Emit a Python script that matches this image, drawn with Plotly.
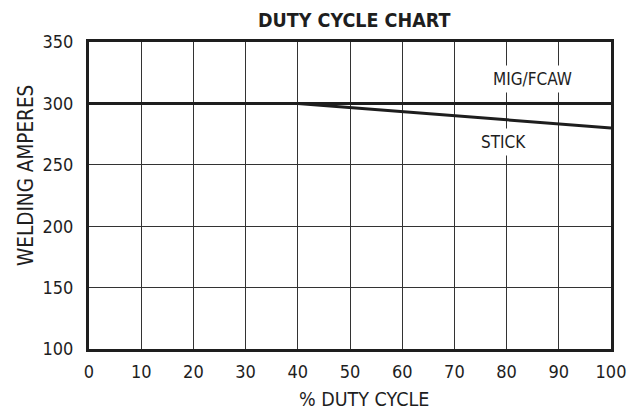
import plotly.graph_objects as go

duty_cycle = [0, 10, 20, 30, 40, 50, 60, 70, 80, 90, 100]
mig_amps = [300, 300, 300, 300, 300, 300, 300, 300, 300, 300, 300]
stick_x = [0, 40, 100]
stick_amps = [300, 300, 280]
x_ticks = [0, 10, 20, 30, 40, 50, 60, 70, 80, 90, 100]
y_ticks = [100, 150, 200, 250, 300, 350]

FONT = "Liberation Sans Narrow, DejaVu Sans Condensed, Arial Narrow, sans-serif"
INK = "#1e1e1e"

fig = go.Figure()
fig.add_trace(go.Scatter(x=stick_x, y=stick_amps, mode="lines",
                         line=dict(color=INK, width=3), showlegend=False))
fig.add_trace(go.Scatter(x=duty_cycle, y=mig_amps, mode="lines",
                         line=dict(color=INK, width=3), showlegend=False))

fig.add_annotation(x=85, y=319.5, text="MIG/FCAW", showarrow=False,
                   font=dict(family=FONT, size=17, color=INK),
                   bgcolor="white", borderpad=3)
fig.add_annotation(x=79.4, y=268.2, text="STICK", showarrow=False,
                   font=dict(family=FONT, size=17, color=INK),
                   bgcolor="white", borderpad=3)

# axis titles placed as annotations
fig.add_annotation(xref="paper", yref="paper", x=-0.1207, y=0.567,
                   text="WELDING AMPERES", textangle=-90, showarrow=False,
                   xanchor="center", yanchor="middle",
                   font=dict(family=FONT, size=20.5, color=INK))
fig.add_annotation(xref="paper", yref="paper", x=0.526, y=-0.166,
                   text="% DUTY CYCLE", showarrow=False,
                   xanchor="center", yanchor="middle",
                   font=dict(family=FONT, size=19.5, color=INK))

fig.update_layout(
    width=641, height=412,
    margin=dict(l=89, r=30, t=42, b=63, autoexpand=False),
    paper_bgcolor="white", plot_bgcolor="white",
    font=dict(family=FONT, size=18, color=INK),
    title=dict(text="<b>DUTY CYCLE CHART</b>", xref="paper", x=0.508,
               xanchor="center", yref="container", y=0.951, yanchor="middle",
               font=dict(family=FONT, size=19.5, color=INK)),
    xaxis=dict(range=[0, 100], tickvals=x_ticks, showgrid=True,
               gridcolor="#333333", gridwidth=1, zeroline=False,
               showline=True, linecolor=INK, linewidth=3, mirror=True,
               ticks="", ticklen=0, ticklabelstandoff=4,
               tickfont=dict(family=FONT, size=18, color=INK)),
    yaxis=dict(range=[100, 350], tickvals=y_ticks, showgrid=True,
               gridcolor="#333333", gridwidth=1, zeroline=False,
               showline=True, linecolor=INK, linewidth=3, mirror=True,
               ticks="", ticklen=0, ticklabelstandoff=9,
               tickfont=dict(family=FONT, size=18, color=INK)),
)

fig.write_html(
    "out.html",
    config={"displayModeBar": False, "staticPlot": True},
    post_script="document.body.style.margin='0';document.body.style.overflow='hidden';",
)
